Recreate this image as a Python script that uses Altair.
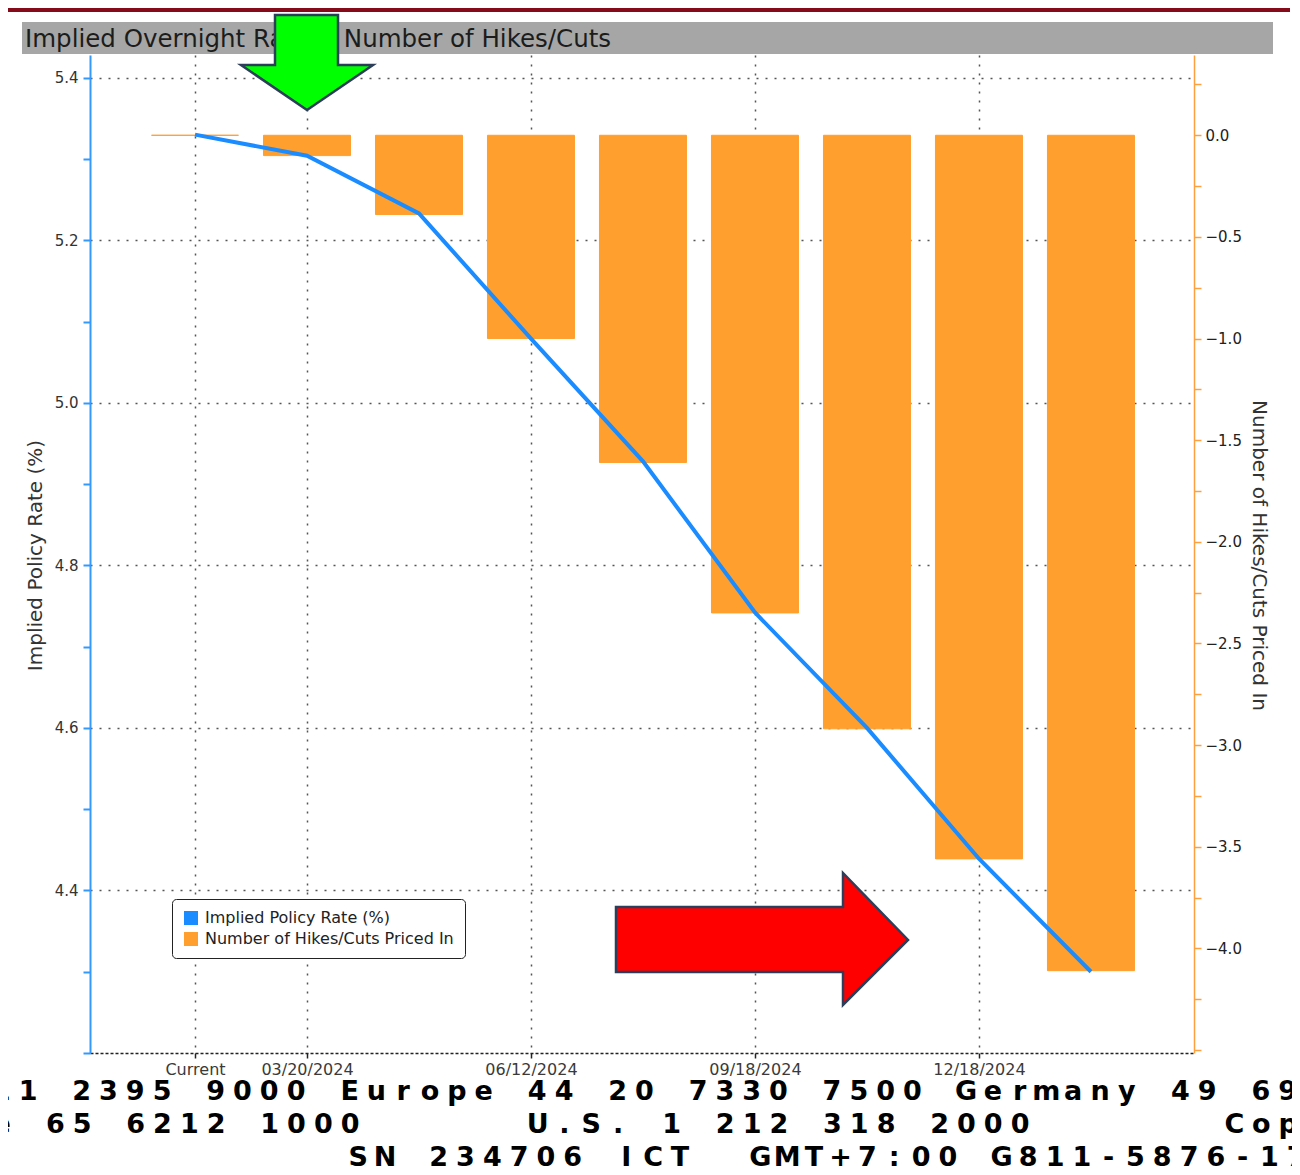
import altair as alt
import pandas as pd

# ---------------- data ----------------
dates = ["Current", "03/20/2024", "05/01/2024", "06/12/2024", "07/31/2024",
         "09/18/2024", "11/07/2024", "12/18/2024", "01/29/2025"]
implied_rate = [5.330, 5.304, 5.233, 5.079, 4.928, 4.742, 4.600, 4.439, 4.300]
hikes_cuts = [0.00, -0.10, -0.39, -1.00, -1.61, -2.35, -2.92, -3.56, -4.11]
shown_idx = [0, 1, 3, 5, 7]
left_ticks = [4.2, 4.3, 4.4, 4.5, 4.6, 4.7, 4.8, 4.9, 5.0, 5.1, 5.2, 5.3, 5.4]
right_ticks = [-4.5, -4.25, -4.0, -3.75, -3.5, -3.25, -3.0, -2.75, -2.5, -2.25,
               -2.0, -1.75, -1.5, -1.25, -1.0, -0.75, -0.5, -0.25, 0.0, 0.25]
S1 = "Implied Policy Rate (%)"
S2 = "Number of Hikes/Cuts Priced In"
series_names = [S1, S2]
chart_title = "Implied Overnight Rate & Number of Hikes/Cuts"
footer1 = "11 2395 9000 Europe 44 20 7330 7500 Germany 49 69 9204"
footer2 = "e 65 6212 1000      U.S. 1 212 318 2000       Copyright"
footer3 = "SN 234706 ICT  GMT+7:00 G811-5876-17"

ORANGE = "#FF9F2D"
BLUE = "#1A8CFF"

df = pd.DataFrame({"idx": list(range(len(dates))), "date": dates,
                   "rate": implied_rate, "hikes": hikes_cuts})

XDOM = [-0.9375, 8.92]
date_js = "[" + ",".join("'" + d + "'" for d in dates) + "]"

x_axis = alt.Axis(values=shown_idx, labelExpr=f"{date_js}[datum.value]", title=None,
                  labelFont="DejaVu Sans", labelFontSize=16, labelColor="#3a3a3a",
                  tickSize=5, tickColor="#222", tickWidth=1.5,
                  domainColor="#222", domainDash=[3, 2], domainWidth=1.5,
                  labelPadding=3, grid=True, gridDash=[2, 7], gridColor="#555",
                  gridWidth=1.5)


def X(field):
    return alt.X(field, scale=alt.Scale(domain=XDOM, nice=False, zero=False, padding=0),
                 axis=x_axis)


color_scale = alt.Scale(domain=series_names, range=[BLUE, ORANGE])
legend = alt.Legend(title=None, orient="none", legendX=82, legendY=844,
                    symbolType="square", symbolSize=196, symbolStrokeWidth=0,
                    symbolOpacity=1, labelLimit=500,
                    labelFont="DejaVu Sans", labelFontSize=16, labelColor="#222",
                    labelOffset=6, padding=11, rowPadding=5,
                    strokeColor="#222", cornerRadius=4, fillColor="white")

left_major = "abs(datum.value*5 - round(datum.value*5)) < 0.001 && datum.value > 4.25"
right_major = "abs(datum.value*2 - round(datum.value*2)) < 0.001 && datum.value > -4.4"

left_axis = alt.Axis(orient="left", values=left_ticks,
                     labelExpr=f"({left_major}) ? format(datum.value, '.1f') : ''",
                     title=S1, titleFont="DejaVu Sans", titleFontSize=20,
                     titleFontWeight="normal", titleColor="#333",
                     titleX=-49, titleY=500, titleBaseline="alphabetic",
                     labelFont="DejaVu Sans", labelFontSize=15, labelColor="#333",
                     labelPadding=5, tickSize=7, tickWidth=2, tickColor="#3399FF",
                     domainColor="#3399FF", domainWidth=2,
                     grid=True, gridDash=[2, 7], gridColor="#555", gridWidth=1.5,
                     gridOpacity={"condition": {"test": left_major, "value": 1}, "value": 0})

right_axis = alt.Axis(orient="right", values=right_ticks,
                      labelExpr=f"({right_major}) ? format(datum.value, '.1f') : ''",
                      title=S2, titleFont="DejaVu Sans", titleFontSize=20,
                      titleFontWeight="normal", titleColor="#333",
                      titleX=58, titleY=500, titleBaseline="alphabetic",
                      labelFont="DejaVu Sans", labelFontSize=15, labelColor="#222",
                      labelPadding=4, tickSize=7, tickWidth=1.5, tickColor="#FFA040",
                      domainColor="#FFA040", domainWidth=1.5, grid=False)

bars = alt.Chart(df).mark_bar(
    size=87, color=ORANGE, stroke=ORANGE, strokeWidth=1).encode(
    x=X("idx:Q"),
    y=alt.Y("hikes:Q", scale=alt.Scale(domain=[-4.515, 0.395], nice=False, zero=False),
            axis=right_axis),
    y2=alt.datum(0),
)

line = alt.Chart(df).mark_line(strokeWidth=4, color=BLUE).encode(
    x=X("idx:Q"),
    y=alt.Y("rate:Q", scale=alt.Scale(domain=[4.2, 5.428], nice=False, zero=False),
            axis=left_axis),
)

legend_df = pd.DataFrame({"series": series_names})
legend_layer = alt.Chart(legend_df).mark_square(size=196, filled=True, opacity=1).encode(
    x=alt.value(-5000), y=alt.value(-5000),
    color=alt.Color("series:N", scale=color_scale, legend=legend, sort=series_names),
)

one = pd.DataFrame({"a": [0]})

title_bar = alt.Chart(one).mark_rect(color="#A6A6A6").encode(
    x=alt.value(-68), x2=alt.value(1183), y=alt.value(-33), y2=alt.value(-1))
top_band = alt.Chart(one).mark_rect(color="#850A1A").encode(
    x=alt.value(-90), x2=alt.value(1200), y=alt.value(-47), y2=alt.value(-43))
title_text = alt.Chart(one).mark_text(
    text=chart_title, font="DejaVu Sans", fontSize=24.5, color="#1c1c1c",
    align="left", baseline="alphabetic").encode(x=alt.value(-65), y=alt.value(-8))

PITCH = 26.8 / 112.0


def footer_layer(text, start_u, ybase):
    rows = pd.DataFrame({"i": list(range(len(text))), "ch": list(text)})
    return alt.Chart(rows).transform_filter("datum.ch != ' '").transform_calculate(
        u=f"{start_u} + datum.i * {PITCH}").mark_text(
        font="DejaVu Sans", fontSize=27, fontWeight="bold", align="center",
        baseline="alphabetic", color="black").encode(
        x=X("u:Q"), y=alt.value(ybase), text="ch:N")


f1 = footer_layer(footer1, -1.73, 1045)
f2 = footer_layer(footer2, -1.726, 1078)
f3 = footer_layer(footer3, 1.458, 1111)

green_path = "M185,-40 L248,-40 L248,10 L283,10 L217,55 L151,10 L185,10 Z"
red_path = "M526,852 L753,852 L753,818 L818,885 L753,950 L753,917 L526,917 Z"

green_arrow = alt.Chart(one).mark_point(
    shape=green_path, size=4, filled=True, fill="#00FF00", color="#00FF00",
    stroke="#2D3E5A", strokeWidth=2.5, opacity=1).encode(x=alt.value(0), y=alt.value(0))
red_arrow = alt.Chart(one).mark_point(
    shape=red_path, size=4, filled=True, fill="#FF0000", color="#FF0000",
    stroke="#2D3E5A", strokeWidth=2.5, opacity=1).encode(x=alt.value(0), y=alt.value(0))

chart = alt.layer(
    title_bar, top_band, title_text, bars, line, legend_layer, f1, f2, f3,
    green_arrow, red_arrow
).resolve_scale(y="independent").properties(
    width=1104, height=998,
    padding={"left": 82, "top": 47, "right": 98, "bottom": 114},
    autosize=alt.AutoSizeParams(type="none"),
    background="white",
).configure_view(strokeWidth=0)

chart.save("out.html", embed_options={"renderer": "svg", "actions": False})
